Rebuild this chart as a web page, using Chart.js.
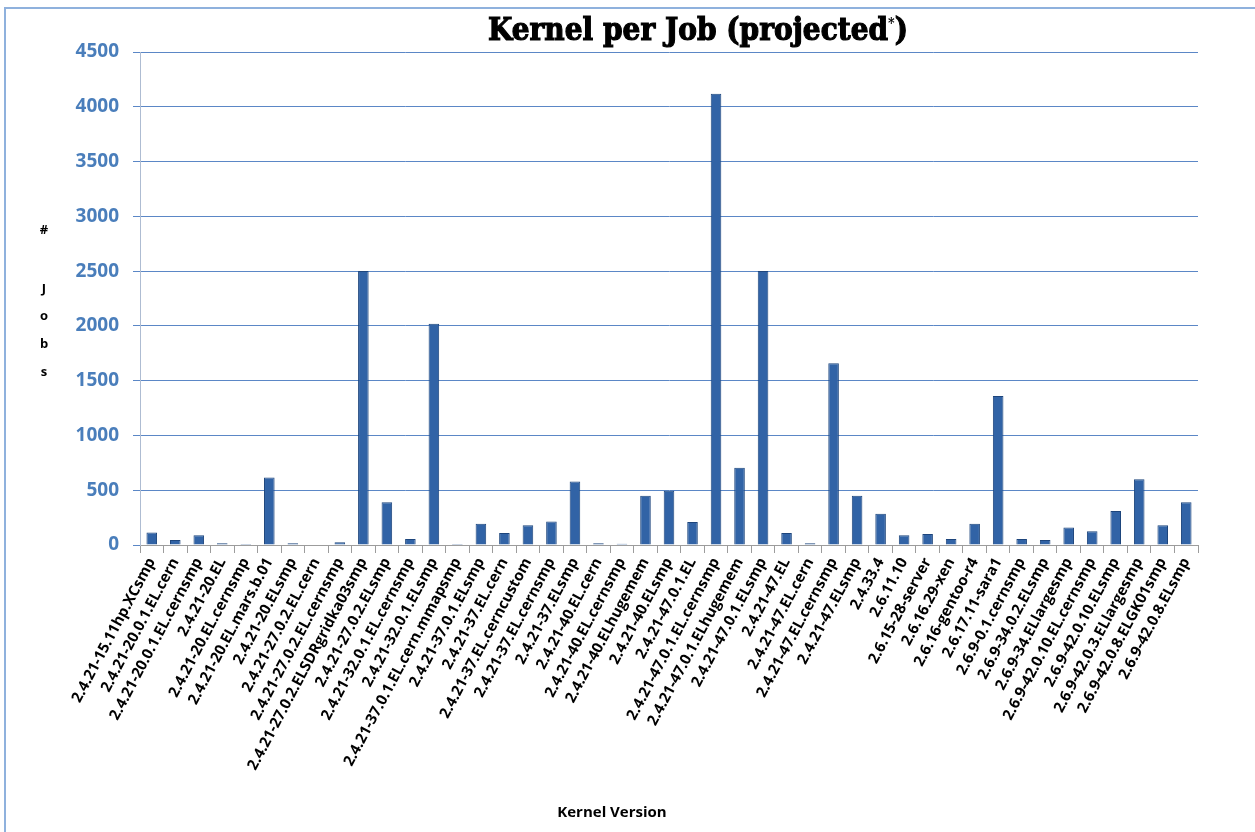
<!DOCTYPE html>
<html>
<head>
<meta charset="utf-8">
<script src="https://cdn.jsdelivr.net/npm/chart.js@4"></script>
<style>
  body { margin: 0; background: #fff; }
</style>
</head>
<body>
<canvas id="myChart" width="1255" height="832"></canvas>
<script>
const kernels = [
  "2.4.21-15.11hp.XCsmp", "2.4.21-20.0.1.EL.cern", "2.4.21-20.0.1.EL.cernsmp", "2.4.21-20.EL",
  "2.4.21-20.EL.cernsmp", "2.4.21-20.EL.mars.b.01", "2.4.21-20.ELsmp", "2.4.21-27.0.2.EL.cern",
  "2.4.21-27.0.2.EL.cernsmp", "2.4.21-27.0.2.ELSDRgridka03smp", "2.4.21-27.0.2.ELsmp",
  "2.4.21-32.0.1.EL.cernsmp", "2.4.21-32.0.1.ELsmp", "2.4.21-37.0.1.EL.cern.mmapsmp",
  "2.4.21-37.0.1.ELsmp", "2.4.21-37.EL.cern", "2.4.21-37.EL.cerncustom", "2.4.21-37.EL.cernsmp",
  "2.4.21-37.ELsmp", "2.4.21-40.EL.cern", "2.4.21-40.EL.cernsmp", "2.4.21-40.ELhugemem",
  "2.4.21-40.ELsmp", "2.4.21-47.0.1.EL", "2.4.21-47.0.1.EL.cernsmp", "2.4.21-47.0.1.ELhugemem",
  "2.4.21-47.0.1.ELsmp", "2.4.21-47.EL", "2.4.21-47.EL.cern", "2.4.21-47.EL.cernsmp",
  "2.4.21-47.ELsmp", "2.4.33.4", "2.6.11.10", "2.6.15-28-server", "2.6.16.29-xen",
  "2.6.16-gentoo-r4", "2.6.17.11-sara1", "2.6.9-0.1.cernsmp", "2.6.9-34.0.2.ELsmp",
  "2.6.9-34.ELlargesmp", "2.6.9-42.0.10.EL.cernsmp", "2.6.9-42.0.10.ELsmp",
  "2.6.9-42.0.3.ELlargesmp", "2.6.9-42.0.8.ELGK01smp", "2.6.9-42.0.8.ELsmp"
];

const jobs = [
  115, 45, 90, 15, 10, 615, 15, 5, 25, 2500, 390, 55, 2020, 8, 195, 110, 180, 215, 580,
  15, 12, 450, 495, 210, 4120, 705, 2500, 110, 15, 1660, 450, 285, 90, 100, 55, 195,
  1360, 55, 45, 160, 125, 310, 600, 180, 390
];

const yMax = 4500;
const yStep = 500;

const chartTitle = "Kernel per Job (projected";
const yTitleLetters = ["#", "J", "o", "b", "s"];
const xTitle = "Kernel Version";

const decorations = {
  id: "decorations",
  afterDraw(chart) {
    const c = chart.ctx;
    c.save();
    // outer frame
    c.strokeStyle = "#8fb1dd";
    c.lineWidth = 2;
    c.strokeRect(5, 8, 1270, 850);

    // title, heavy serif squeezed to width
    c.fillStyle = "#000";
    c.strokeStyle = "#000";
    c.lineWidth = 1.2;
    c.font = "bold 31px 'DejaVu Serif'";
    c.textBaseline = "alphabetic";
    const w1 = c.measureText(chartTitle).width;
    c.font = "bold 14px 'DejaVu Serif'";
    const wStar = c.measureText("*").width;
    c.font = "bold 31px 'DejaVu Serif'";
    const wParen = c.measureText(")").width;
    const total = w1 + wStar + wParen;
    const sx = 420 / total;
    c.translate(488, 40);
    c.scale(sx, 1);
    c.fillText(chartTitle, 0, 0);
    c.strokeText(chartTitle, 0, 0);
    c.font = "bold 14px 'DejaVu Serif'";
    c.fillText("*", w1, -12);
    c.font = "bold 31px 'DejaVu Serif'";
    c.fillText(")", w1 + wStar, 0);
    c.strokeText(")", w1 + wStar, 0);
    c.setTransform(1, 0, 0, 1, 0, 0);

    // y title as stacked letters
    c.font = "bold 13px 'Open Sans'";
    c.textAlign = "center";
    c.textBaseline = "middle";
    const ys = [230, 289, 316, 344, 372];
    yTitleLetters.forEach((ch, i) => c.fillText(ch, 44, ys[i]));

    // x title
    c.font = "bold 15px 'Open Sans'";
    c.fillText(xTitle, 612, 813);
    c.restore();
  }
};

new Chart(document.getElementById("myChart"), {
  type: "bar",
  data: {
    labels: kernels,
    datasets: [{
      label: "# Jobs",
      data: jobs,
      backgroundColor: "#3163a6",
      borderColor: "#1d457c",
      borderWidth: 1,
      barPercentage: 0.9,
      categoryPercentage: 0.5
    }]
  },
  options: {
    responsive: false,
    animation: false,
    layout: { padding: { top: 52, right: 57, left: 0, bottom: 0 } },
    plugins: {
      legend: { display: false },
      tooltip: { enabled: false }
    },
    scales: {
      x: {
        afterFit: (s) => { s.height = 287; },
        grid: {
          drawOnChartArea: false,
          drawTicks: true,
          tickLength: 8,
          color: "#9c9c9c"
        },
        border: { color: "#9c9c9c" },
        ticks: {
          autoSkip: false,
          minRotation: 62,
          maxRotation: 62,
          color: "#000",
          padding: 2,
          font: { family: "'Open Sans'", size: 15, weight: "bold" }
        }
      },
      y: {
        min: 0,
        max: yMax,
        afterFit: (s) => { s.width = 140; },
        grid: { color: "#5b87c6", tickLength: 7 },
        border: { color: "#aebcd2" },
        ticks: {
          stepSize: yStep,
          color: "#4a7ebb",
          padding: 14,
          callback: (v) => String(v),
          font: { family: "'Open Sans'", size: 19, weight: "bold" }
        }
      }
    }
  },
  plugins: [decorations]
});
</script>
</body>
</html>
